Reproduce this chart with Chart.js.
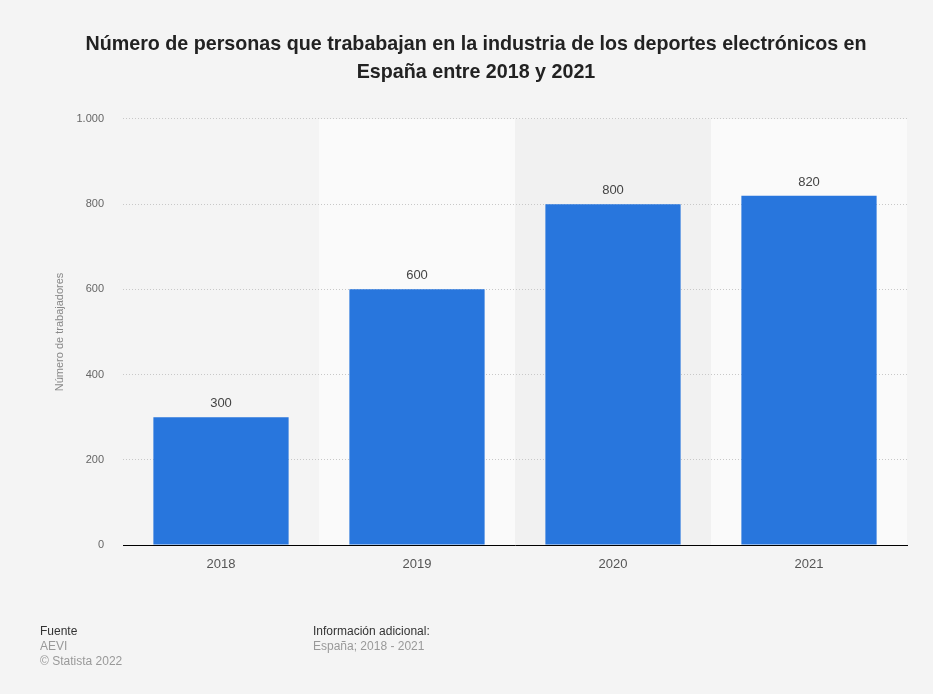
<!DOCTYPE html>
<html lang="es">
<head>
    <meta charset="UTF-8">
    <title>Trabajadores deportes electrónicos España</title>
    <script src="https://cdn.jsdelivr.net/npm/chart.js"></script>
    <style>
        body {
            margin: 0;
            background-color: #f4f4f4;
            font-family: "Liberation Sans", Arial, sans-serif;
        }
        #wrap {
            position: relative;
            width: 933px;
            height: 694px;
        }
        #wrap canvas {
            position: absolute;
            left: 0;
            top: 0;
        }
        .foot {
            position: absolute;
            top: 624px;
            font-size: 12px;
            line-height: 15px;
            color: #999;
        }
        .foot b {
            font-weight: normal;
            color: #333;
        }
    </style>
</head>
<body>
<div id="wrap">
    <canvas id="chart" width="933" height="694"></canvas>
    <div class="foot" style="left: 40px;"><b>Fuente</b><br>AEVI<br>© Statista 2022</div>
    <div class="foot" style="left: 313px;"><b>Información adicional:</b><br>España; 2018 - 2021</div>
</div>
<script>
    const years = ['2018', '2019', '2020', '2021'];
    const workers = [300, 600, 800, 820];
    const yTicks = [0, 200, 400, 600, 800, 1000];

    // alternating column shading behind the bars
    const stripeColors = ['#f4f4f4', '#fafafa', '#f1f1f1', '#fafafa'];

    const stripes = {
        id: 'stripes',
        beforeDraw(chart) {
            const ctx = chart.ctx;
            const x = chart.scales.x;
            const area = chart.chartArea;
            const step = x.width / years.length;
            ctx.save();
            years.forEach((y, i) => {
                const cx = x.getPixelForValue(i);
                ctx.fillStyle = stripeColors[i % stripeColors.length];
                ctx.fillRect(cx - step / 2, area.top, step, area.bottom - area.top);
            });
            ctx.restore();
        }
    };

    const valueLabels = {
        id: 'valueLabels',
        afterDatasetsDraw(chart) {
            const ctx = chart.ctx;
            const meta = chart.getDatasetMeta(0);
            ctx.save();
            ctx.font = '13px "Liberation Sans", Arial, sans-serif';
            ctx.fillStyle = '#444';
            ctx.textAlign = 'center';
            ctx.textBaseline = 'bottom';
            meta.data.forEach((bar, i) => {
                const v = chart.data.datasets[0].data[i];
                ctx.fillText(v.toLocaleString('de-DE'), bar.x, bar.y - 7);
            });
            ctx.restore();
        }
    };

    new Chart(document.getElementById('chart'), {
        type: 'bar',
        data: {
            labels: years,
            datasets: [{
                data: workers,
                backgroundColor: '#2876dd',
                barPercentage: 0.69,
                categoryPercentage: 1
            }]
        },
        options: {
            responsive: false,
            animation: false,
            layout: { padding: { left: 45, right: 26, top: 0, bottom: 0 } },
            plugins: {
                legend: { display: false },
                tooltip: { enabled: false },
                title: {
                    display: true,
                    text: ['Número de personas que trababajan en la industria de los deportes electrónicos en',
                           'España entre 2018 y 2021'],
                    color: '#222',
                    font: { family: '"Liberation Sans", Arial, sans-serif', size: 19.7, weight: 'bold', lineHeight: 1.42 },
                    padding: { top: 31, bottom: 32 }
                }
            },
            scales: {
                x: {
                    grid: { display: false, drawTicks: false },
                    border: { color: '#000', width: 1 },
                    ticks: {
                        color: '#555',
                        padding: 12,
                        font: { family: '"Liberation Sans", Arial, sans-serif', size: 13 }
                    },
                    afterFit(scale) { scale.height = 149; }
                },
                y: {
                    min: 0,
                    max: 1000,
                    afterBuildTicks(scale) { scale.ticks = yTicks.map(v => ({ value: v })); },
                    grid: {
                        color: '#c8c8c8',
                        drawTicks: false
                    },
                    border: { display: false, dash: [1, 2] },
                    ticks: {
                        color: '#666',
                        padding: 19,
                        font: { family: '"Liberation Sans", Arial, sans-serif', size: 11 },
                        callback: v => v.toLocaleString('de-DE')
                    },
                    title: {
                        display: true,
                        text: 'Número de trabajadores',
                        color: '#888',
                        font: { family: '"Liberation Sans", Arial, sans-serif', size: 11 },
                        padding: { top: 8 }
                    },
                    afterFit(scale) { scale.width = 78; }
                }
            }
        },
        plugins: [stripes, valueLabels]
    });
</script>
</body>
</html>
